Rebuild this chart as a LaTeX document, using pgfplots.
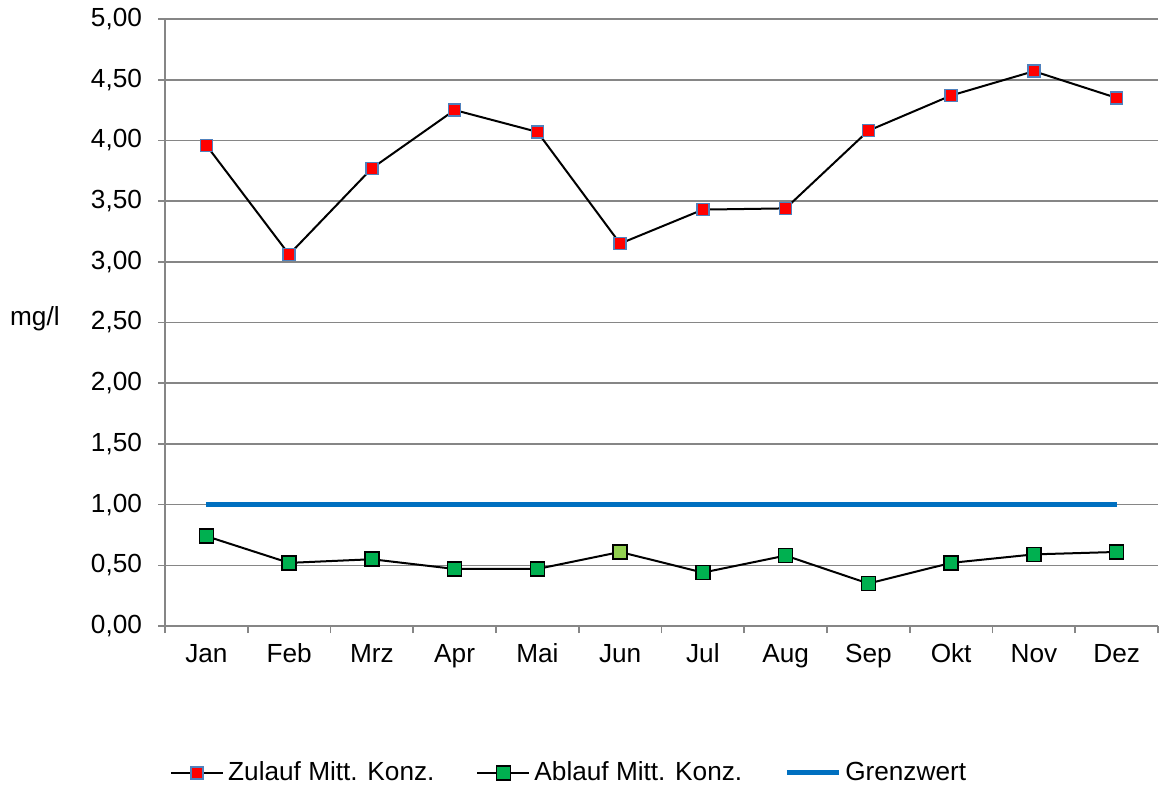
\documentclass[border=0pt]{standalone}
\usepackage{pgfplots}
\pgfplotsset{compat=1.18}
\usepackage{fontspec}
\setmainfont{Liberation Sans}
\definecolor{gridgray}{HTML}{868686}
\definecolor{zred}{HTML}{FF0000}
\definecolor{zblue}{HTML}{4F81BD}
\definecolor{agreen}{HTML}{00B050}
\definecolor{lgreen}{HTML}{92D050}
\definecolor{gblue}{HTML}{0070C0}
\begin{document}
\begin{tikzpicture}[x=1pt,y=1pt]
\useasboundingbox (0,0) rectangle (580,394.5);
\begin{axis}[
  at={(82.5pt,81.5pt)}, anchor=south west,
  scale only axis, width=496.5pt, height=303.5pt,
  font=\fontsize{13.1}{15}\selectfont,
  xmin=-0.5, xmax=11.5, ymin=0, ymax=5,
  axis x line=bottom, axis y line=left,
  axis line style={-, gridgray, line width=0.8pt},
  xtick={0,...,11},
  xticklabels={Jan,Feb,Mrz,Apr,Mai,Jun,Jul,Aug,Sep,Okt,Nov,Dez},
  minor xtick={-0.5,0.5,...,11.5},
  major x tick style={draw=none},
  minor x tick style={gridgray, line width=0.8pt},
  ytick={0,0.5,...,5},
  y tick style={gridgray, line width=0.8pt},
  tick align=outside,
  major tick length=3.5pt, minor tick length=3.5pt,
  ymajorgrids, grid style={gridgray, line width=0.8pt},
  yticklabel style={xshift=-4.5pt, /pgf/number format/fixed, /pgf/number format/fixed zerofill, /pgf/number format/precision=2, /pgf/number format/use comma, /pgf/number format/assume math mode=true},
  xticklabel style={yshift=-4pt, text height=1.4ex, text depth=0.35ex},
  ylabel={mg/l},
  ylabel style={at={(axis description cs:-0.131,0.506)}, rotate=-90, anchor=center},
  legend style={at={(axis description cs:0.408,-0.242)}, anchor=center, draw=none, fill=none,
    legend columns=-1, font=\fontsize{13.1}{15}\selectfont,
    /tikz/every even column/.append style={column sep=19pt},
    /tikz/every odd column/.append style={column sep=0pt},
    nodes={inner xsep=2pt}},
  legend cell align=left,
  legend image code/.code={\draw[mark repeat=2,mark phase=2,#1] plot coordinates {(0pt,0pt)(13pt,0pt)(26pt,0pt)};},
]
\addplot[black, line width=1pt, mark=square*, mark size=3pt,
  mark options={fill=zred, draw=zblue, line width=0.75pt}]
  coordinates {(0,3.96)(1,3.06)(2,3.77)(3,4.25)(4,4.07)(5,3.15)(6,3.43)(7,3.44)(8,4.08)(9,4.37)(10,4.57)(11,4.35)};
\addlegendentry{Zulauf Mitt. Konz.}
\addplot[black, line width=1pt, mark=square*, mark size=3.5pt,
  mark options={fill=agreen, draw=black, line width=0.75pt}]
  coordinates {(0,0.74)(1,0.52)(2,0.55)(3,0.47)(4,0.47)(5,0.61)(6,0.44)(7,0.58)(8,0.35)(9,0.52)(10,0.59)(11,0.61)};
\addlegendentry{Ablauf Mitt. Konz.}
\addplot[gblue, line width=2.5pt] coordinates {(0,1)(11,1)};
\addlegendentry{Grenzwert}
\addplot[only marks, mark=square*, mark size=3.5pt, forget plot,
  mark options={fill=lgreen, draw=black, line width=0.75pt}]
  coordinates {(5,0.61)};
\end{axis}
\end{tikzpicture}
\end{document}
